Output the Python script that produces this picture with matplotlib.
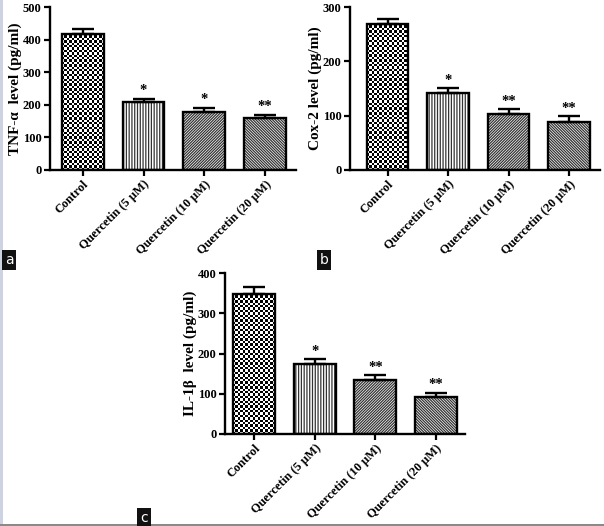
import numpy as np
import matplotlib
matplotlib.use("Agg")
import matplotlib.pyplot as plt
from matplotlib.patches import Rectangle

plt.rcParams['font.family'] = ['Liberation Serif', 'DejaVu Serif']
plt.rcParams['font.weight'] = 'bold'
plt.rcParams['hatch.linewidth'] = 0.9

groups = ["Control", "Quercetin (5 \u03bcM)", "Quercetin (10 \u03bcM)", "Quercetin (20 \u03bcM)"]

tnf_mean = [418, 209, 178, 161]
tnf_err = [14, 10, 13, 9]
tnf_stars = ["", "*", "*", "**"]

cox_mean = [269, 142, 103, 89]
cox_err = [9, 9, 9, 10]
cox_stars = ["", "*", "**", "**"]

il_mean = [349, 175, 134, 93]
il_err = [16, 11, 12, 10]
il_stars = ["", "*", "**", "**"]

hatches = [None, "||||||", "/" * 12, "\\" * 12]


def checker_fill(ax, bar, cell=2.4):
    # checkerboard pattern clipped to the bar
    bb = bar.get_window_extent()
    nx = max(1, int(round(bb.width / cell)))
    ny = max(1, int(round(bb.height / cell)))
    img = np.indices((ny, nx)).sum(axis=0) % 2
    x0, y0 = bar.get_x(), bar.get_y()
    im = ax.imshow(img, cmap='gray', interpolation='nearest', aspect='auto',
                   extent=[x0, x0 + bar.get_width(), y0, y0 + bar.get_height()],
                   zorder=1.5)
    im.set_clip_path(bar)


def panel(rect, means, errs, stars, ylabel, ymax, ystep, xlim):
    ax = fig.add_axes(rect)
    x = np.arange(len(groups))
    ax.set_xlim(*xlim)
    ax.set_ylim(0, ymax)
    fills = ax.bar(x, means, width=0.69, color='white', edgecolor='#333333',
                   linewidth=0, zorder=1)
    for b, h in zip(fills, hatches):
        if h:
            b.set_hatch(h)
    checker_fill(ax, fills[0])
    ax.bar(x, means, width=0.69, fill=False, edgecolor='black', linewidth=1.7, zorder=3)
    ax.errorbar(x, means, yerr=[np.zeros(len(errs)), errs], fmt='none', ecolor='black',
                elinewidth=1.7, capsize=8, capthick=1.7, zorder=2)
    for xi, m, e, s in zip(x, means, errs, stars):
        if s:
            ax.annotate(s, (xi, m + e), xytext=(0, 1), textcoords='offset points',
                        ha='center', va='bottom', fontsize=10.5, fontweight='bold')
    ax.set_xlim(*xlim)
    ax.set_ylim(0, ymax)
    ax.set_yticks(np.arange(0, ymax + 1, ystep))
    ax.set_yticklabels([str(v) for v in np.arange(0, ymax + 1, ystep)],
                       fontsize=9, fontweight='bold')
    ax.set_xticks(x)
    ax.set_xticklabels(groups, rotation=45, ha='right', va='top', rotation_mode='anchor',
                       fontsize=9, fontweight='bold')
    ax.tick_params(width=1.6, length=4, pad=2)
    ax.set_ylabel(ylabel, fontsize=11, fontweight='bold', labelpad=1)
    for side in ['top', 'right']:
        ax.spines[side].set_visible(False)
    for side in ['left', 'bottom']:
        ax.spines[side].set_linewidth(1.7)
    return ax


W, H = 604, 526
fig = plt.figure(figsize=(W / 100, H / 100), dpi=100)


def frac(left, right, top, bottom):
    return [left / W, 1 - bottom / H, (right - left) / W, (bottom - top) / H]


panel(frac(50, 296, 7, 170), tnf_mean, tnf_err, tnf_stars,
      "TNF-\u03b1  level (pg/ml)", 500, 100, (-0.54, 3.51))
panel(frac(350, 600, 7, 170), cox_mean, cox_err, cox_stars,
      "Cox-2 level (pg/ml)", 300, 100, (-0.62, 3.51))
panel(frac(225, 465, 273, 434), il_mean, il_err, il_stars,
      "IL-1\u03b2  level (pg/ml)", 400, 100, (-0.48, 3.48))

# panel letters
for letter, px, py in [("a", 9, 260), ("b", 324, 260), ("c", 144, 518)]:
    fig.text(px / W, 1 - py / H, letter, color='white', fontsize=10, family='DejaVu Sans',
             fontweight='normal', ha='center', va='center',
             bbox=dict(boxstyle='square,pad=0.2', facecolor='#111111', edgecolor='none'))

# frame bits of the original image
fig.patches.append(Rectangle((0, 0), 3 / W, 1, transform=fig.transFigure,
                             facecolor='#cdd3e3', edgecolor='none'))
fig.patches.append(Rectangle((0, 0), 1, 2 / H, transform=fig.transFigure,
                             facecolor='#8a8a8a', edgecolor='none'))

fig.savefig("out.png", dpi=100)
